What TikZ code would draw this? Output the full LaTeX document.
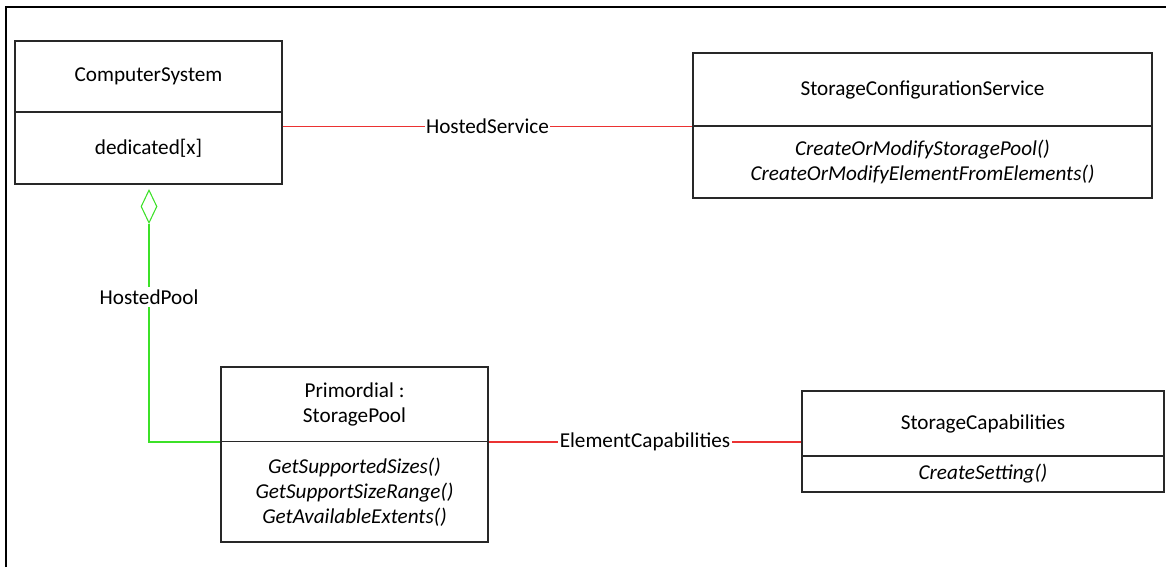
\documentclass[tikz,border=0pt]{standalone}
\usepackage{fontspec}
\setmainfont{Carlito}
\usetikzlibrary{shapes.geometric}
\definecolor{assoc}{RGB}{235,50,50}
\definecolor{aggr}{RGB}{60,225,40}
\definecolor{boxline}{RGB}{40,40,40}
\begin{document}
\begin{tikzpicture}[x=0.75pt,y=-0.75pt,
  every node/.style={font=\fontsize{15.9pt}{18.75pt}\selectfont},
  cls/.style 2 args={draw=boxline,line width=0.8pt,fill=white,inner sep=0pt,
    minimum width=#1*0.75pt,minimum height=#2*0.75pt,align=center},
  ops/.style={font=\fontsize{15.9pt}{18.75pt}\selectfont\itshape},
  lbl/.style={fill=white,text=black,inner xsep=1pt,inner ysep=2pt},
  assocline/.style={color=assoc,line width=0.9pt},
  aggline/.style={color=aggr,line width=0.9pt},
  aggdiamond/.style={diamond,draw=aggr,line width=0.8pt,fill=white,inner sep=0pt,
    minimum width=16*0.75pt,minimum height=33*0.75pt}]
\useasboundingbox (0,0) rectangle (1166,567);
\draw[line width=1.5pt] (6,567) -- (6,7) -- (1166,7);

% ComputerSystem
\node[cls={267}{71}] (csname) at (148.5,76.5) {ComputerSystem};
\node[cls={267}{72}] (csattr) at (148.5,148) {dedicated[x]};

% StorageConfigurationService
\node[cls={459}{73}] (scsname) at (922.5,89.5) {StorageConfigurationService};
\node[cls={459}{72},ops] (scsops) at (922.5,162) {CreateOrModifyStoragePool()\\CreateOrModifyElementFromElements()};

% Primordial StoragePool
\node[cls={267}{74.5}] (spname) at (354.5,404.25) {Primordial :\\StoragePool};
\node[cls={267}{100.5},ops] (spops) at (354.5,491.75) {GetSupportedSizes()\\GetSupportSizeRange()\\GetAvailableExtents()};

% StorageCapabilities
\node[cls={362}{65}] (scname) at (983,423.5) {StorageCapabilities};
\node[cls={362}{36},ops] (scops) at (983,474) {CreateSetting()};

% HostedService association
\draw[assocline] (csattr.east |- scsname.south west) -- node[lbl] (hs) {HostedService} (scsname.south west);

% ElementCapabilities association
\draw[assocline] (spname.south east) -- node[lbl] (ec) {ElementCapabilities} (scname.west |- spname.south east);

% HostedPool aggregation
\node[aggdiamond] (agg) at (149,206.5) {};
\draw[aggline] (agg.south) |- (spname.south west);
\node[lbl] (hp) at (149,297) {HostedPool};
\end{tikzpicture}
\end{document}
